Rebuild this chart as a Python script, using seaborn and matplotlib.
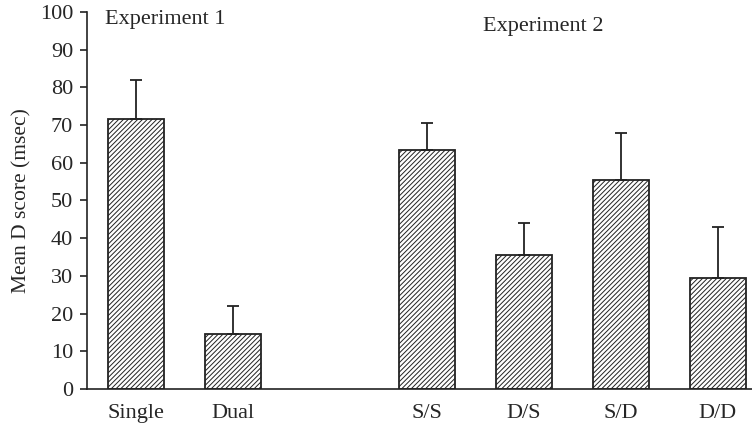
import matplotlib
matplotlib.use("Agg")
import matplotlib.pyplot as plt
import seaborn as sns
import pandas as pd

categories = ["Single", "Dual", "S/S", "D/S", "S/D", "D/D"]
positions = [0, 1, 3, 4, 5, 6]
means = [71.5, 14.5, 63.5, 35.5, 55.5, 29.5]
errors = [10.5, 7.5, 7.0, 8.5, 12.5, 13.5]
yticks = list(range(0, 101, 10))

sns.set_style("white")
plt.rcParams['font.family'] = ['Liberation Serif', 'DejaVu Serif']
plt.rcParams['hatch.linewidth'] = 0.7
plt.rcParams['hatch.color'] = '#333333'

df = pd.DataFrame({"pos": positions, "mean": means, "cat": categories})

fig = plt.figure(figsize=(7.52, 4.30), dpi=100)
ax = fig.add_axes([0.1157, 0.0953, 0.884, 0.877])

sns.barplot(data=df, x="pos", y="mean", native_scale=True, width=0.58,
            color="white", edgecolor="#222222", linewidth=1.3,
            hatch="///////", errorbar=None, ax=ax)

lower = [0] * len(errors)
ax.errorbar(positions, means, yerr=[lower, errors], fmt="none",
            ecolor="#222222", elinewidth=1.3, capsize=4.3, capthick=1.3, zorder=1)

ax.set_xticks(positions)
ax.set_xticklabels(categories, fontsize=16)
ax.set_yticks(yticks)
ax.set_yticklabels([str(t) for t in yticks], fontsize=16)
ax.set_xlim(-0.505, 6.35)
ax.set_ylim(0, 100)
ax.set_xlabel("")
ax.set_ylabel("Mean D score (msec)", fontsize=15.5, labelpad=6)

for s in ["top", "right"]:
    ax.spines[s].set_visible(False)
for s in ["left", "bottom"]:
    ax.spines[s].set_color("#222222")
    ax.spines[s].set_linewidth(1.2)

ax.tick_params(axis="y", which="both", left=True, length=5, width=1.2,
               color="#222222", pad=5)
ax.tick_params(axis="x", bottom=False, pad=7)

ax.text(-0.32, 98, "Experiment 1", fontsize=16, ha="left", va="center")
ax.text(4.2, 96, "Experiment 2", fontsize=16, ha="center", va="center")

fig.savefig("out.png", dpi=100)
